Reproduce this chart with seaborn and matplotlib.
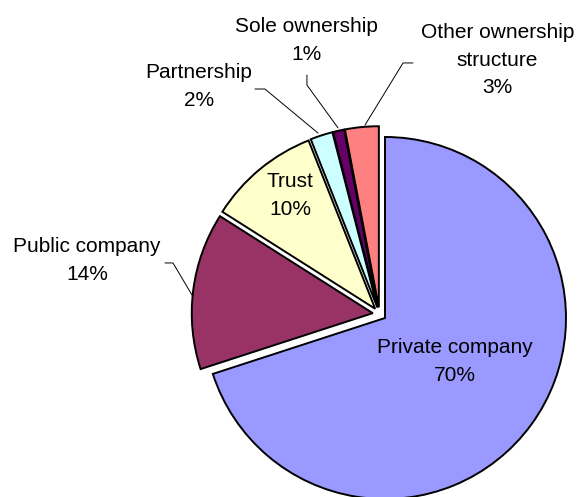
import matplotlib
matplotlib.use("Agg")
import matplotlib.pyplot as plt
import seaborn as sns

# Ownership structure shares (percent), clockwise from 12 o'clock
categories = ["Private company", "Public company", "Trust", "Partnership",
              "Sole ownership", "Other ownership\nstructure"]
shares = [70, 14, 10, 2, 1, 3]
colors = ["#9999FF", "#993366", "#FFFFCC", "#CCFFFF", "#660066", "#FF8080"]

sns.set_theme(style="white")
plt.rcParams["font.family"] = ["Liberation Sans", "DejaVu Sans"]

fig = plt.figure(figsize=(5.84, 4.97), dpi=100)
ax = fig.add_axes([0, 0, 1, 1])

ax.pie(shares, colors=colors, startangle=90, counterclock=False,
       explode=[0.0375] * len(shares), radius=1.0,
       wedgeprops=dict(edgecolor="black", linewidth=1.4))

# Label anchors in pie-radius units (centre of the text block)
label_pos = [(0.417, -0.262), (-1.616, 0.296), (-0.494, 0.655),
             (-0.997, 1.257), (-0.401, 1.511), (0.652, 1.403)]
for name, v, (x, y) in zip(categories, shares, label_pos):
    ax.text(x, y, f"{name}\n{v}%", ha="center", va="center",
            fontsize=15, color="black", linespacing=1.58)

# Leader lines from outside labels to their slices
leaders = {
    "Public company": [(-1.185, 0.282), (-1.141, 0.282), (-1.036, 0.105)],
    "Partnership": [(-0.688, 1.243), (-0.633, 1.243), (-0.340, 1.000)],
    "Sole ownership": [(-0.401, 1.320), (-0.401, 1.265), (-0.229, 1.028)],
    "Other": [(0.185, 1.387), (0.130, 1.387), (-0.080, 1.044)],
}
for pts in leaders.values():
    xs, ys = zip(*pts)
    ax.plot(xs, ys, color="black", linewidth=0.7)

ax.set_aspect("auto")
ax.set_xlim(-379.5 / 181, (584 - 379.5) / 181)
ax.set_ylim(-(497 - 314) / 181, 314 / 181)
ax.axis("off")

fig.savefig("out.png", dpi=100, facecolor="white")
